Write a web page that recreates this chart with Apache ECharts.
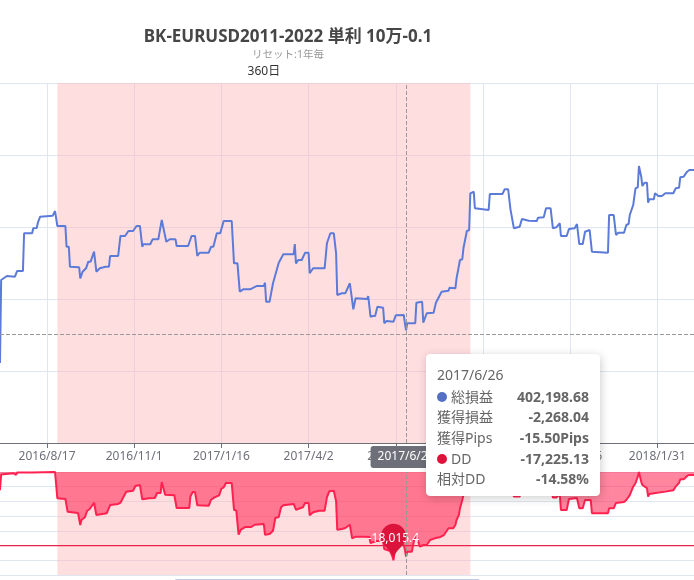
<!DOCTYPE html>
<html>
<head>
<meta charset="utf-8">
<script src="https://cdn.jsdelivr.net/npm/echarts/dist/echarts.min.js"></script>
<style>
html,body{margin:0;padding:0;background:#fff;}
#chart{width:694px;height:580px;}
</style>
</head>
<body>
<div id="chart"></div>
<script>
// ---- categories: daily dates shown in the zoomed window ----
const firstDate = [2016, 7, 7];
const dayCount = 606;
const dates = [];
for (let i = 0; i < dayCount; i++) {
  const d = new Date(firstDate[0], firstDate[1] - 1, firstDate[2] + i);
  dates.push(d.getFullYear() + '/' + (d.getMonth() + 1) + '/' + d.getDate());
}

// ---- x-axis tick labels ----
const tickLabels = ['2016/8/17', '2016/11/1', '2017/1/16', '2017/4/2', '2017/6/17', '2017/9/1', '2017/11/16', '2018/1/31'];

// ---- 総損益 (vertices: day index into dates, value) ----
const profitDay = [0,1,6,13,14,15,20,21,28,29,32,33,35,46,48,50,57,58,60,61,69,70,72,75,77,79,82,84,87,92,95,96,103,105,109,112,116,119,122,124,125,131,133,138,141,142,145,148,153,154,164,167,170,172,174,182,184,186,189,192,195,202,204,207,209,212,218,224,230,231,232,235,238,240,243,247,256,257,258,260,263,266,269,270,273,283,285,288,291,293,294,298,301,305,308,310,320,321,322,323,325,327,329,334,335,337,343,345,352,353,354,355,362,363,368,369,372,378,380,381,385,391,392,397,398,401,403,404,405,407,409,410,413,414,426,427,438,440,443,445,446,448,453,455,461,468,469,474,476,480,482,485,488,489,494,496,501,503,505,508,510,514,515,516,530,531,535,537,539,544,546,548,549,552,554,556,557,559,560,562,564,565,566,570,571,574,577,580,587,589,592,593,596,599,601,605];
const profitValue = [397220,409900,410510,410410,410320,411280,411280,417040,417040,417800,417850,418660,419570,419730,420440,418150,418150,414990,414990,411940,411840,410160,411170,411690,412700,412700,414230,411170,411690,411940,411940,413570,413570,416630,416630,417390,417390,418150,418150,414990,415360,415360,416120,416120,419070,419070,415750,416120,416120,415100,415100,416630,416630,413570,414070,414070,414990,414990,417040,417040,418920,418920,412450,412450,408120,408480,408480,408990,408990,409490,406590,406590,409400,410670,412550,413830,413830,415400,412450,412960,412960,414070,414070,410930,411690,411690,415510,417040,417040,413980,407610,407870,407870,409400,405430,407110,407000,407460,407460,404300,404400,404400,405820,405670,403290,403640,403530,404510,404560,403290,402198.68,403290,403290,406440,406590,403380,404820,404910,406440,406740,408120,408270,408730,408640,410160,412960,413070,414750,414990,417390,417540,423150,423390,420860,420600,423040,423040,423760,423760,420700,420600,417800,418050,419220,418960,418920,419420,419480,420860,420860,417800,417950,418570,416630,416630,417690,417800,418460,415400,415400,417280,417540,417440,414230,414070,419830,419830,416780,417130,417130,418310,418460,419830,421360,423910,424070,427320,425690,424260,424770,424770,421710,422230,422230,423150,422740,422740,423150,423150,423910,424000,425590,425690,426450,426710,426710];

// ---- DD (vertices: day index into dates, value) ----
const ddDay = [0,1,2,12,14,15,28,29,48,49,50,57,59,68,70,71,74,76,78,82,84,93,96,103,105,110,116,118,122,124,130,135,137,140,141,142,144,152,154,165,166,168,170,172,182,184,187,191,193,195,197,202,204,206,208,210,214,219,222,230,231,235,238,240,243,245,247,256,258,259,264,266,269,270,273,278,283,285,287,291,293,294,298,301,305,307,310,318,322,323,328,334,335,340,342,343,344,345,352,353,354,355,359,361,363,366,369,372,375,379,384,387,391,395,397,398,400,401,403,405,408,410,413,414,426,427,438,440,443,445,446,448,453,455,468,469,474,476,480,482,485,488,489,494,496,503,505,508,510,515,516,530,531,535,537,544,546,549,552,554,556,557,559,560,564,565,566,570,571,580,587,589,592,593,596,599,601,605];
const ddValue = [-3700,-500,-250,-250,-600,-100,-100,0,0,0,-5360,-5500,-8100,-8360,-10800,-9800,-9240,-7900,-7600,-6260,-8770,-8420,-6730,-6520,-6260,-4020,-3810,-2850,-2650,-5570,-5360,-5300,-4280,-4280,-2040,-2040,-4630,-4750,-7340,-7340,-4950,-4080,-4080,-6790,-6870,-5650,-5160,-4750,-3410,-3120,-2240,-2240,-7690,-7890,-12780,-11760,-11210,-11210,-10750,-10600,-12780,-12640,-11970,-9380,-9180,-7200,-6790,-6520,-7690,-7340,-7200,-6320,-6320,-8830,-8220,-7890,-7890,-5160,-3940,-3810,-5970,-11760,-11620,-11420,-10750,-13520,-13190,-13190,-13250,-14480,-14070,-14070,-15700,-16110,-17130,-18015.4,-16310,-14880,-14880,-15900,-17225.13,-16250,-16250,-13870,-12850,-15230,-14880,-14880,-13870,-13520,-13250,-12850,-11480,-11480,-10810,-9790,-8770,-7400,-5710,-3670,-1220,0,0,-2300,-2300,-300,-300,0,0,-3000,-3100,-5000,-5000,-3900,-3900,-3300,-3300,-2500,-2500,-5200,-5200,-4500,-7750,-7750,-5500,-5300,-7400,-7400,-5700,-5700,-8400,-8400,-7400,-7400,-6300,-6100,-5700,-4700,-3000,-2300,-950,0,-2000,-2650,-3300,-5000,-4500,-4350,-4000,-4000,-3700,-3000,-2200,-1500,-1500,-800,-600,-600];

// ---- marks ----
const ddLimit = -15000;
const ddPeriod = ['2016/8/26', '2017/8/21'];
const ddPeriodLabel = '360日';

// ---- tooltip details for the hovered day ----
const tipDates = ['2017/6/26'];
const tipGain = [-2268.04];
const tipPips = [-15.50];
const tipRelDD = [-14.58];
const pointerProfit = 401600; // mouse height, in 総損益 units

const FONT = "'Noto Sans', 'Noto Sans CJK JP', sans-serif";
const RED = '#dc143c';
const LIMIT_RED = '#e8234a';
const fmt2 = v => v.toLocaleString('en-US', {minimumFractionDigits: 2, maximumFractionDigits: 2});
const fmt1 = v => v.toLocaleString('en-US', {minimumFractionDigits: 1, maximumFractionDigits: 1});
const showTick = (index, value) => tickLabels.indexOf(value !== undefined ? value : dates[index]) >= 0;

const chart = echarts.init(document.getElementById('chart'));

function row(color, name, val) {
  const marker = color ? '<span style="display:inline-block;margin-right:4px;border-radius:50%;width:10px;height:10px;background-color:' + color + ';"></span>' : '';
  return '<div style="display:flex;justify-content:space-between;align-items:center;height:20.7px;white-space:nowrap;">' +
    '<span>' + marker + name + '</span><span style="font-weight:bold;margin-left:20px;">' + val + '</span></div>';
}

const option = {
  animation: false,
  textStyle: {fontFamily: FONT},
  title: {
    text: 'BK-EURUSD2011-2022 単利 10万-0.1',
    subtext: 'リセット:1年毎',
    left: 283, top: 24, textAlign: 'center', itemGap: 4,
    textStyle: {fontSize: 17, fontWeight: 'bold', color: '#464646', fontFamily: FONT},
    subtextStyle: {fontSize: 10.5, color: '#999', fontFamily: FONT}
  },
  axisPointer: {link: [{xAxisIndex: 'all'}]},
  tooltip: {
    trigger: 'axis',
    alwaysShowContent: true,
    transitionDuration: 0,
    backgroundColor: '#fff',
    borderColor: '#fff',
    borderWidth: 1,
    padding: [10, 10, 6, 10],
    extraCssText: 'box-shadow: 1px 2px 10px rgba(0,0,0,0.2);border-radius:4px;',
    axisPointer: {
      type: 'cross',
      lineStyle: {color: '#999', type: 'dashed', width: 1},
      crossStyle: {color: '#999', type: 'dashed', width: 1},
      label: {backgroundColor: '#6E7079', color: '#fff', fontSize: 12, padding: [5, 7, 5, 7], fontFamily: FONT}
    },
    formatter: function (params) {
      const date = params[0].axisValue;
      const pi = profitDay.findIndex(d => dates[d] === date);
      const di = ddDay.findIndex(d => dates[d] === date);
      const ti = tipDates.indexOf(date);
      const dash = '-';
      let html = '<div style="font-family:' + FONT.replace(/"/g, '') + ';font-size:14px;color:#666;width:152px;">';
      html += '<div style="height:20.7px;line-height:20.7px;">' + date + '</div>';
      html += row('#5470c6', '総損益', pi >= 0 ? fmt2(profitValue[pi]) : dash);
      html += row(null, '獲得損益', ti >= 0 ? fmt2(tipGain[ti]) : dash);
      html += row(null, '獲得Pips', ti >= 0 ? tipPips[ti].toFixed(2) + 'Pips' : dash);
      html += row(RED, 'DD', di >= 0 ? fmt2(ddValue[di]) : dash);
      html += row(null, '相対DD', ti >= 0 ? tipRelDD[ti].toFixed(2) + '%' : dash);
      html += '</div>';
      return html;
    }
  },
  grid: [
    {left: 0, right: 0, top: 83, height: 360, containLabel: false, outerBoundsMode: 'none'},
    {left: 0, right: 0, top: 472, height: 103, containLabel: false, outerBoundsMode: 'none'}
  ],
  xAxis: [
    {
      type: 'category', gridIndex: 0, data: dates, boundaryGap: false,
      axisLine: {show: true, lineStyle: {color: '#6E7079'}},
      axisTick: {show: true, interval: showTick, length: 5, lineStyle: {color: '#6E7079'}},
      axisLabel: {show: true, interval: showTick, color: '#6E7079', fontSize: 12, margin: 8, fontFamily: FONT},
      splitLine: {show: true, interval: showTick, lineStyle: {color: '#E0E6F1'}}
    },
    {
      type: 'category', gridIndex: 1, data: dates, boundaryGap: false,
      axisLine: {show: false}, axisTick: {show: false}, axisLabel: {show: false}, splitLine: {show: false},
      axisPointer: {label: {show: false}}
    }
  ],
  yAxis: [
    {
      type: 'value', gridIndex: 0, min: 385000, max: 440000, interval: 11000,
      axisLabel: {show: false}, axisLine: {show: false}, axisTick: {show: false},
      splitLine: {show: true, lineStyle: {color: '#E0E6F1'}},
      axisPointer: {label: {show: false}}
    },
    {
      type: 'value', gridIndex: 1, min: -21000, max: 0, interval: 3000,
      axisLabel: {show: false}, axisLine: {show: false}, axisTick: {show: false},
      splitLine: {show: true, lineStyle: {color: '#E0E6F1'}},
      axisPointer: {label: {show: false}}
    }
  ],
  dataZoom: [{
    type: 'slider', xAxisIndex: [0, 1], start: 0, end: 100,
    left: 172, right: 217, top: 579, height: 24,
    showDetail: false, borderColor: '#d2dbee', backgroundColor: 'rgba(47,69,84,0)',
    fillerColor: 'rgba(135,175,274,0.2)'
  }],
  series: [
    {
      name: '総損益', type: 'line', xAxisIndex: 0, yAxisIndex: 0,
      data: profitDay.map((d, i) => [dates[d], profitValue[i]]),
      symbol: 'none',
      lineStyle: {width: 2, color: '#5470c6'},
      itemStyle: {color: '#5470c6'},
      markArea: {
        silent: true,
        itemStyle: {color: 'rgba(255,173,177,0.4)'},
        label: {show: true, position: 'top', color: '#333', fontSize: 12, fontFamily: FONT},
        data: [[{name: ddPeriodLabel, xAxis: ddPeriod[0]}, {xAxis: ddPeriod[1]}]]
      }
    },
    {
      name: 'DD', type: 'line', xAxisIndex: 1, yAxisIndex: 1,
      data: ddDay.map((d, i) => [dates[d], ddValue[i]]),
      symbol: 'none',
      lineStyle: {width: 2, color: '#f01e48'},
      itemStyle: {color: RED},
      areaStyle: {color: 'rgba(240,30,70,0.78)'},
      markArea: {
        silent: true,
        itemStyle: {color: 'rgba(255,173,177,0.4)'},
        label: {show: false},
        data: [[{xAxis: ddPeriod[0]}, {xAxis: ddPeriod[1]}]]
      },
      markPoint: {
        symbol: 'pin', symbolSize: 42,
        itemStyle: {color: RED},
        label: {color: '#fff', fontSize: 12, fontFamily: FONT, formatter: p => fmt1(p.value)},
        data: [{type: 'min'}]
      }
    },
    {
      // DD limit line across the whole window
      name: 'DD上限', type: 'line', xAxisIndex: 1, yAxisIndex: 1,
      data: [[dates[0], ddLimit], [dates[dates.length - 1], ddLimit]],
      symbol: 'none', silent: true, tooltip: {show: false}, z: 3,
      itemStyle: {color: LIMIT_RED},
      lineStyle: {color: LIMIT_RED, width: 1.2, type: 'solid'},
      emphasis: {disabled: true}
    }
  ]
};

chart.setOption(option);

function showTip() {
  const px = chart.convertToPixel({xAxisIndex: 0}, dates.indexOf(tipDates[0]));
  const py = chart.convertToPixel({yAxisIndex: 0}, pointerProfit);
  chart.dispatchAction({type: 'showTip', x: px, y: py});
}
showTip();
setTimeout(showTip, 50);
</script>
</body>
</html>
